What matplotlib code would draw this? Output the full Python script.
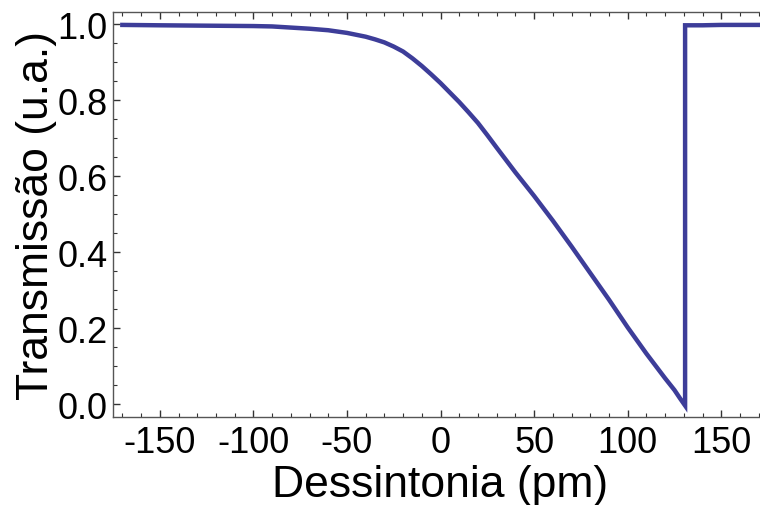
import matplotlib
matplotlib.use("Agg")
import matplotlib.pyplot as plt
import matplotlib.ticker as plticker

plt.rcParams['font.family'] = ['Liberation Sans', 'DejaVu Sans']

# detuning (pm) and transmission
detuning = [-170, -150, -125, -100, -90, -80, -70, -60, -50, -45, -40, -35,
            -30, -25, -20, -15, -10, -5, 0, 5, 10, 15, 20, 25, 30, 40, 50,
            60, 70, 80, 90, 100, 110, 120, 125, 128, 130.7, 130.7, 140, 150,
            160, 170]
transmission = [0.998, 0.997, 0.996, 0.995, 0.994, 0.991, 0.988, 0.984,
                0.977, 0.972, 0.967, 0.960, 0.952, 0.941, 0.928, 0.910,
                0.890, 0.868, 0.845, 0.820, 0.795, 0.768, 0.740, 0.708,
                0.675, 0.610, 0.548, 0.483, 0.415, 0.345, 0.275, 0.202,
                0.133, 0.068, 0.037, 0.015, -0.004, 0.997, 0.997, 0.998,
                0.998, 0.998]

fig = plt.figure(figsize=(7.6, 5.06), dpi=100)
ax = fig.add_axes([113 / 760, 88 / 506, 655 / 760, 405 / 506])

ax.plot(detuning, transmission, color='#3d3d99', linewidth=3.2,
        solid_joinstyle='miter')

ax.set_xlim(-175, 175)
ax.set_ylim(-0.034, 1.032)

ax.xaxis.set_major_locator(plticker.MultipleLocator(50))
ax.xaxis.set_minor_locator(plticker.MultipleLocator(10))
ax.yaxis.set_major_locator(plticker.MultipleLocator(0.2))
ax.yaxis.set_minor_locator(plticker.MultipleLocator(0.05))
ax.xaxis.set_major_formatter(plticker.FuncFormatter(lambda v, p: '%d' % v))
ax.yaxis.set_major_formatter(plticker.FuncFormatter(lambda v, p: '%.1f' % v))

for sp in ax.spines.values():
    sp.set_color('#555555')
    sp.set_linewidth(1.0)

ax.tick_params(which='both', direction='in', top=True, right=True,
               color='#333333', labelsize=26)
ax.tick_params(which='major', length=5, width=1.0)
ax.tick_params(axis='x', which='major', pad=6)
ax.tick_params(axis='y', which='major', pad=4)
ax.tick_params(which='minor', length=3, width=0.8)

ax.set_xlabel('Dessintonia (pm)', fontsize=32, labelpad=3)
ax.set_ylabel('Transmissão (u.a.)', fontsize=32, labelpad=0)

fig.savefig('out.png', dpi=100)
